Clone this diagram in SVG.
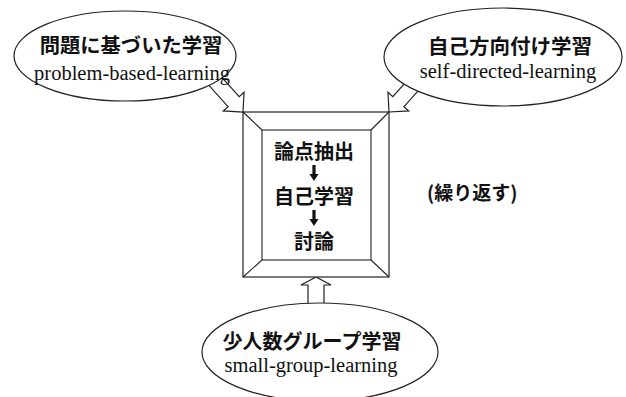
<svg xmlns="http://www.w3.org/2000/svg" width="626" height="397" viewBox="0 0 626 397">
<style>
  .shape { fill: #fff; stroke: #222; stroke-width: 1.2; }
  .line { stroke: #222; stroke-width: 1.1; fill: none; }
  .jp { font-family: "Noto Sans CJK JP", "Noto Sans CJK SC", sans-serif; font-weight: bold; fill: #111; text-anchor: middle; }
  .en { font-family: "Liberation Serif", "Times New Roman", serif; font-size: 20.5px; fill: #111; text-anchor: middle; }
</style>
<defs>
  <path id="diagArrow" d="M0,0 L-14,-14 L-14,-7.5 L-48,-7.5 L-48,7.5 L-14,7.5 L-14,14 Z"/>
  <path id="upArrow" d="M0,0 L-8,-15 L-8,-8 L-40,-8 L-40,8 L-8,8 L-8,15 Z"/>
  <path id="smallDown" d="M-1.6,0 L1.6,0 L1.6,9 L4.5,9 L0,16 L-4.5,9 L-1.6,9 Z"/>
</defs>
<rect width="626" height="397" fill="#fff"/>
<g id="connectors">
  <use href="#diagArrow" class="shape" transform="translate(243,112) rotate(48)"/>
  <use href="#diagArrow" class="shape" transform="translate(389,112) rotate(132)"/>
  <use href="#upArrow" class="shape" transform="translate(316,277) rotate(-90)"/>
</g>
<g id="node-pbl">
  <ellipse class="shape" cx="125" cy="56" rx="111" ry="45"/>
  <text class="jp" x="131" y="53" font-size="20.3">問題に基づいた学習</text>
  <text class="en" x="132" y="80">problem-based-learning</text>
</g>
<g id="node-sdl">
  <ellipse class="shape" cx="503" cy="57" rx="119" ry="49"/>
  <text class="jp" x="510" y="54" font-size="20.5">自己方向付け学習</text>
  <text class="en" x="508" y="78">self-directed-learning</text>
</g>
<g id="node-sgl">
  <ellipse class="shape" cx="320" cy="352" rx="118" ry="49"/>
  <text class="jp" x="312" y="349" font-size="20">少人数グループ学習</text>
  <text class="en" x="311" y="372">small-group-learning</text>
</g>
<g id="node-cycle">
  <rect class="shape" x="243" y="112" width="146" height="165"/>
  <rect class="line" x="262" y="130" width="109" height="130"/>
  <line class="line" x1="243" y1="112" x2="262" y2="130"/>
  <line class="line" x1="389" y1="112" x2="371" y2="130"/>
  <line class="line" x1="243" y1="277" x2="262" y2="260"/>
  <line class="line" x1="389" y1="277" x2="371" y2="260"/>
  <text class="jp" x="314" y="159" font-size="20">論点抽出</text>
  <use href="#smallDown" fill="#111" transform="translate(314,165)"/>
  <text class="jp" x="314" y="204" font-size="20">自己学習</text>
  <use href="#smallDown" fill="#111" transform="translate(314,210)"/>
  <text class="jp" x="314" y="249" font-size="20">討論</text>
</g>
<g id="note">
  <text class="jp" x="427" y="200" font-size="19" text-anchor="start" style="text-anchor:start">(繰り返す)</text>
</g>
</svg>
